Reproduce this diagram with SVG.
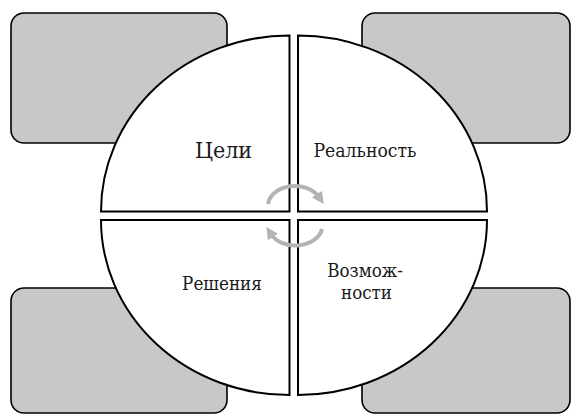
<svg xmlns="http://www.w3.org/2000/svg" width="571" height="414" viewBox="0 0 571 414">
<style>
.box{fill:#c8c8c8;stroke:#000;stroke-width:1.6}
.q{fill:#fff;stroke:#000;stroke-width:2}
.t{font-family:"DejaVu Serif Condensed","DejaVu Serif",serif;fill:#1a1a1a;text-anchor:middle;font-size:19.2px}
.arc{fill:none;stroke:#b3b3b3;stroke-width:4}
</style>
<defs>
<marker id="ah" viewBox="0 0 10 10" refX="3" refY="5" markerWidth="3" markerHeight="3" orient="auto" markerUnits="strokeWidth">
<path d="M0,0 L10,5 L0,10 z" fill="#b3b3b3"/>
</marker>
</defs>
<g id="box-tl"><rect class="box" x="11" y="13" width="216" height="130" rx="13"/></g>
<g id="box-tr"><rect class="box" x="362" y="13" width="208" height="130" rx="13"/></g>
<g id="box-bl"><rect class="box" x="11" y="288" width="216" height="125" rx="13"/></g>
<g id="box-br"><rect class="box" x="362" y="288" width="208" height="125" rx="13"/></g>
<g id="q-goals">
<path class="q" d="M289.5,211.5 L289.5,35.5 A188.5,176 0 0 0 101,211.5 Z"/>
<text class="t" x="223.5" y="158" style="font-size:23px">Цели</text>
</g>
<g id="q-reality">
<path class="q" d="M298,211.5 L298,35.5 A189,176 0 0 1 487,211.5 Z"/>
<text class="t" x="365" y="157">Реальность</text>
</g>
<g id="q-solutions">
<path class="q" d="M289.5,220 L289.5,395 A188.5,175 0 0 1 101,220 Z"/>
<text class="t" x="222" y="290" style="font-size:18.7px">Решения</text>
</g>
<g id="q-options">
<path class="q" d="M298,220 L298,395 A189,175 0 0 0 487,220 Z"/>
<text class="t" x="365" y="277" style="font-size:18.6px">Возмож-</text>
<text class="t" x="366.5" y="299" style="font-size:18.6px">ности</text>
</g>
<g id="connectors">
<path class="arc" d="M268,204 A27,20 0 0 1 319,197" marker-end="url(#ah)"/>
<path class="arc" d="M322,229 A27,20 0 0 1 271,234" marker-end="url(#ah)"/>
</g>
</svg>
